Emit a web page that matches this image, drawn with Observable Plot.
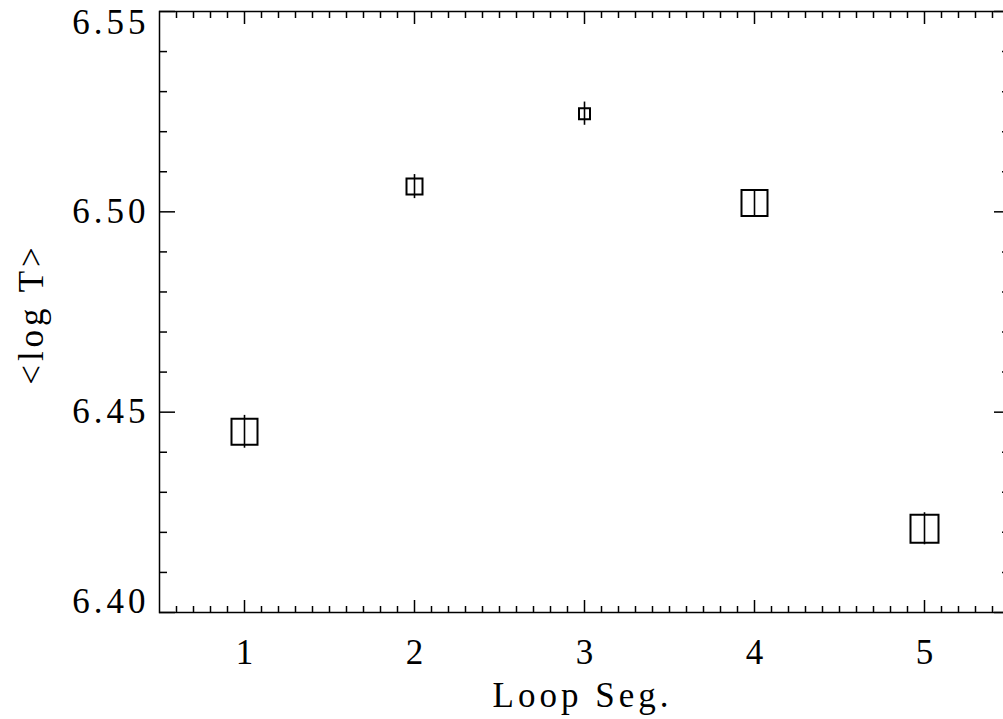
<!DOCTYPE html>
<html>
<head>
<meta charset="utf-8">
<script src="https://cdn.jsdelivr.net/npm/d3@7"></script>
<script src="https://cdn.jsdelivr.net/npm/@observablehq/plot@0.6"></script>
<style>
  html, body { margin: 0; padding: 0; background: #fff; }
</style>
</head>
<body>
<div id="chart"></div>
<script>
// Data
const segments = [1, 2, 3, 4, 5];
const logT = [6.4451, 6.5063, 6.5245, 6.5022, 6.4209];
const logTErr = [0.0041, 0.0030, 0.0029, 0.0033, 0.0040];
const boxSide = [26, 16, 11, 26, 28]; // symbol sizes (px) as drawn

const xTicks = [1, 2, 3, 4, 5];
const xTickLabels = ["1", "2", "3", "4", "5"];
const yTicks = [6.40, 6.45, 6.50, 6.55];
const yTickLabels = ["6.40", "6.45", "6.50", "6.55"];
const xTitle = "Loop Seg.";
const yTitle = "<log T>";

const data = segments.map((s, i) => ({seg: s, v: logT[i], e: logTErr[i], side: boxSide[i]}));
const xMinor = d3.range(6, 55).map(d => d / 10).filter(d => Math.abs(d - Math.round(d)) > 1e-9);
const yMinor = d3.range(640, 656).map(d => d / 100).filter(d => !yTicks.some(t => Math.abs(t - d) < 1e-9));

const font = "Liberation Serif";
const fs = 35;
const none = () => "";

const chart = Plot.plot({
  width: 1003,
  height: 719,
  marginLeft: 159,
  marginRight: -6,
  marginTop: 11,
  marginBottom: 107,
  style: {fontFamily: font, letterSpacing: "4px", background: "#fff", color: "#000"},
  x: {domain: [0.5, 5.5], axis: null},
  y: {domain: [6.40, 6.55], axis: null},
  r: {type: "identity"},
  marks: [
    Plot.frame({stroke: "#000", strokeWidth: 1.5}),
    // bottom / top ticks (inward)
    Plot.axisX(xTicks, {anchor: "bottom", tickSize: -12, tickFormat: none, label: null, strokeWidth: 1.5, stroke: "#000"}),
    Plot.axisX(xMinor, {anchor: "bottom", tickSize: -6, tickFormat: none, label: null, strokeWidth: 1.5, stroke: "#000"}),
    Plot.axisX(xTicks, {anchor: "top", tickSize: -12, tickFormat: none, label: null, strokeWidth: 1.5, stroke: "#000"}),
    Plot.axisX(xMinor, {anchor: "top", tickSize: -6, tickFormat: none, label: null, strokeWidth: 1.5, stroke: "#000"}),
    // left / right ticks (inward)
    Plot.axisY(yTicks, {anchor: "left", tickSize: -16, tickFormat: none, label: null, strokeWidth: 1.5, stroke: "#000"}),
    Plot.axisY(yMinor, {anchor: "left", tickSize: -8, tickFormat: none, label: null, strokeWidth: 1.5, stroke: "#000"}),
    Plot.axisY(yTicks, {anchor: "right", tickSize: -16, tickFormat: none, label: null, strokeWidth: 1.5, stroke: "#000"}),
    Plot.axisY(yMinor, {anchor: "right", tickSize: -8, tickFormat: none, label: null, strokeWidth: 1.5, stroke: "#000"}),
    // tick labels
    Plot.text(xTicks, {x: d => d, y: () => 6.40, text: (d, i) => xTickLabels[i], dy: 40, dx: 2, fontSize: fs, fill: "#000"}),
    Plot.text(yTicks, {x: () => 0.5, y: d => d, text: (d, i) => yTickLabels[i], textAnchor: "end", dx: -10,
      fontSize: fs, fill: "#000", filter: (d, i) => i > 0 && i < yTicks.length - 1}),
    Plot.text([yTicks[0]], {x: () => 0.5, y: d => d, text: () => yTickLabels[0], textAnchor: "end", dx: -10, dy: -11, fontSize: fs, fill: "#000"}),
    Plot.text([yTicks[yTicks.length - 1]], {x: () => 0.5, y: d => d, text: () => yTickLabels[yTicks.length - 1], textAnchor: "end", dx: -10, dy: 11, fontSize: fs, fill: "#000"}),
    // titles
    Plot.text([xTitle], {x: () => 3, y: () => 6.40, text: d => d, dy: 83, dx: -2, fontSize: fs, fill: "#000"}),
    Plot.text([yTitle], {frameAnchor: "left", textAnchor: "middle", text: d => d, rotate: -90, dx: -128, dy: 2, fontSize: fs, fill: "#000"}),
    // error bars
    Plot.ruleX(data, {x: "seg", y1: d => d.v - d.e, y2: d => d.v + d.e, stroke: "#000", strokeWidth: 1.6}),
    // square symbols
    Plot.dot(data, {x: "seg", y: "v", r: d => d.side / Math.sqrt(Math.PI), symbol: "square", fill: "none", stroke: "#000", strokeWidth: 2})
  ]
});
document.getElementById("chart").appendChild(chart);
</script>
</body>
</html>
